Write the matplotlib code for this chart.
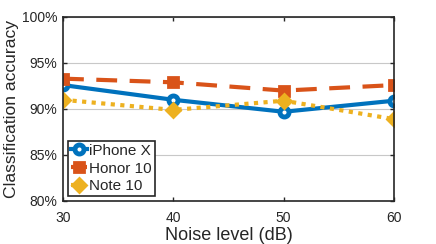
import matplotlib
matplotlib.use("Agg")
import matplotlib.pyplot as plt
from matplotlib.ticker import FuncFormatter

plt.rcParams['font.family'] = ['Liberation Sans', 'DejaVu Sans']

noise = [30, 40, 50, 60]
iphone = [92.6, 91.0, 89.7, 90.9]
honor = [93.3, 92.9, 92.0, 92.6]
note = [91.0, 89.9, 90.9, 88.9]
labels = ['iPhone X', 'Honor 10', 'Note 10']
colors = ['#0072BD', '#D95319', '#EDB120']

fig = plt.figure(figsize=(4.36, 2.44), dpi=100)
ax = fig.add_axes([63/436, 1-201/244, (394-63)/436, (201-17)/244])

ax.plot(noise, iphone, '-', color=colors[0], lw=3, marker='o', ms=6.5,
        mfc='white', mew=3.5, label=labels[0])
ax.plot(noise, honor, color=colors[1], lw=3, ls=(0, (5, 3)), marker='s', ms=7,
        mfc=colors[1], mew=2, label=labels[1])
ax.plot(noise, note, color=colors[2], lw=3, ls=(0, (1, 1.3)), marker='D', ms=7,
        mfc=colors[2], mew=2, label=labels[2])

ax.set_xlim(30, 60)
ax.set_ylim(80, 100)
ax.set_xticks([30, 40, 50, 60])
ax.set_yticks([80, 85, 90, 95, 100])
ax.yaxis.set_major_formatter(FuncFormatter(lambda v, p: f'{v:.0f}%'))
ax.grid(axis='y', color='#c8c8c8', lw=0.8)
ax.set_axisbelow(True)
ax.tick_params(direction='in', top=True, right=True, labelsize=10, length=3,
               width=1, colors='#262626', pad=4)
ax.tick_params(axis='x', pad=7)
for s in ax.spines.values():
    s.set_linewidth(1.2)
    s.set_color('#262626')
ax.set_xlabel('Noise level (dB)', fontsize=13, color='#262626', labelpad=2)
ax.set_ylabel('Classification accuracy', fontsize=12.6, color='#262626')
ax.yaxis.set_label_coords(-44/331, 0.5)

leg = ax.legend(loc='lower left', fontsize=11, frameon=True, fancybox=False,
                edgecolor='#262626', framealpha=1, handlelength=1.1,
                handletextpad=0.1, borderpad=0.2, labelspacing=0.25,
                borderaxespad=0.3)
leg.get_frame().set_linewidth(1.2)
for t in leg.get_texts():
    t.set_color('#262626')

fig.savefig('out.png', dpi=100)
